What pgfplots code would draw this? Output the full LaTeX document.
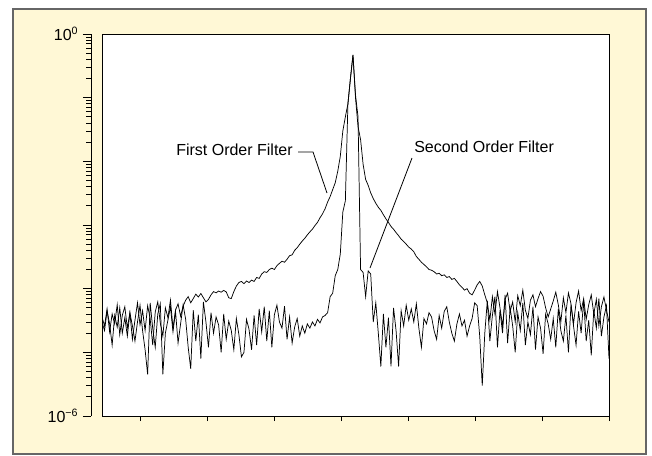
\documentclass[border=0pt]{standalone}
\usepackage{fontspec}
\setmainfont{Liberation Sans}
\usepackage{pgfplots}
\pgfplotsset{compat=1.18}
\usepackage{pgfplotstable}
\definecolor{cream}{RGB}{255,248,214}

% i = sample index, F = first order filter, S = second order filter
\pgfplotstableread{
i F S
0 3.6e-5 3.0e-5
1 2.6e-5 2.2e-5
2 4.8e-5 4.5e-5
3 2.1e-5 2.8e-5
4 4.0e-5 1.3e-5
5 2.8e-5 3.8e-5
6 5.6e-5 2.5e-5
7 1.9e-5 5.0e-5
8 3.8e-5 2.0e-5
9 5.2e-5 3.5e-5
10 2.4e-5 1.8e-5
11 4.2e-5 4.2e-5
12 1.6e-5 2.6e-5
13 3.2e-5 1.5e-5
14 6.0e-5 3.0e-5
15 2.7e-5 5.5e-5
16 4.5e-5 2.2e-5
17 2.2e-5 1.1e-5
18 5.4e-5 4.5e-6
19 3.4e-5 6.0e-5
20 1.3e-5 2.4e-5
21 4.3e-5 1.2e-5
22 6.2e-5 4.0e-5
23 2.9e-5 5.8e-5
24 1.8e-5 4.5e-6
25 5.0e-5 2.0e-5
26 3.5e-5 3.2e-5
27 6.6e-5 5.2e-5
28 2.4e-5 2.1e-5
29 4.6e-5 4.4e-5
30 5.8e-5 1.4e-5
31 3.7e-5 2.8e-5
32 5.3e-5 5.6e-5
33 6.6e-5 3.3e-5
34 7.5e-5 1.2e-5
35 6.0e-5 5.5e-6
36 7.0e-5 4.6e-5
37 8.2e-5 1.5e-5
38 7.4e-5 3.9e-5
39 8.4e-5 8.0e-6
40 7.2e-5 6.2e-5
41 6.2e-5 3.0e-5
42 6.8e-5 1.2e-5
43 8.0e-5 4.2e-5
44 9.0e-5 2.0e-5
45 8.6e-5 3.6e-5
46 9.2e-5 2.7e-5
47 8.8e-5 1.0e-5
48 9.4e-5 4.0e-5
49 8.9e-5 1.6e-5
50 7.2e-5 3.1e-5
51 7.0e-5 2.2e-5
52 9.0e-5 1.1e-5
53 1.1e-4 3.4e-5
54 1.25e-4 1.9e-5
55 1.3e-4 8.5e-6
56 1.2e-4 1.0e-5
57 1.32e-4 3.3e-5
58 1.25e-4 2.3e-5
59 1.36e-4 1.1e-5
60 1.3e-4 3.8e-5
61 1.5e-4 1.3e-5
62 1.45e-4 4.8e-5
63 1.7e-4 2.1e-5
64 1.85e-4 5.2e-5
65 1.8e-4 1.5e-5
66 2.0e-4 4.5e-5
67 2.1e-4 1.2e-5
68 2.0e-4 3.9e-5
69 2.3e-4 5.5e-5
70 2.5e-4 3.0e-5
71 2.7e-4 2.4e-5
72 2.6e-4 5.3e-5
73 2.9e-4 1.6e-5
74 3.3e-4 3.6e-5
75 3.4e-4 1.4e-5
76 4.0e-4 2.5e-5
77 4.4e-4 3.4e-5
78 5.0e-4 1.8e-5
79 5.6e-4 2.6e-5
80 6.2e-4 2.0e-5
81 7.0e-4 2.8e-5
82 7.8e-4 2.4e-5
83 8.6e-4 3.0e-5
84 9.8e-4 2.6e-5
85 1.1e-3 3.3e-5
86 1.3e-3 2.9e-5
87 1.5e-3 3.6e-5
88 1.8e-3 3.8e-5
89 2.3e-3 4.2e-5
90 2.8e-3 7.5e-5
91 3.6e-3 8.5e-5
92 4.6e-3 1.6e-4
93 7.0e-3 2.0e-4
94 1.2e-2 3.5e-4
95 3.0e-2 1.6e-3
96 5.0e-2 2.4e-3
97 8.0e-2 7.9e-2
98 0.2 0.2
99 0.47 0.47
100 0.1 0.11
101 0.035 0.05
102 0.022 2.0e-4
103 9.0e-3 1.8e-4
104 5.2e-3 7.5e-5
105 4.2e-3 1.9e-4
106 3.2e-3 1.7e-4
107 2.6e-3 3.0e-5
108 2.2e-3 6.0e-5
109 1.9e-3 2.0e-5
110 1.7e-3 6.0e-6
111 1.45e-3 4.0e-5
112 1.25e-3 1.2e-5
113 1.1e-3 3.5e-5
114 9.5e-4 6.0e-6
115 8.6e-4 5.0e-5
116 7.6e-4 2.2e-5
117 6.8e-4 6.0e-6
118 6.0e-4 4.5e-5
119 5.5e-4 2.6e-5
120 5.0e-4 5.5e-5
121 4.5e-4 3.2e-5
122 4.2e-4 4.8e-5
123 3.8e-4 3.0e-5
124 3.2e-4 5.8e-5
125 2.9e-4 2.4e-5
126 2.6e-4 1.2e-5
127 2.4e-4 3.4e-5
128 2.2e-4 2.8e-5
129 2.0e-4 4.2e-5
130 1.95e-4 3.6e-5
131 1.85e-4 2.2e-5
132 1.7e-4 1.6e-5
133 1.75e-4 3.8e-5
134 1.6e-4 2.4e-5
135 1.65e-4 4.4e-5
136 1.5e-4 5.2e-5
137 1.55e-4 3.0e-5
138 1.4e-4 2.0e-5
139 1.45e-4 1.5e-5
140 1.3e-4 2.8e-5
141 1.15e-4 4.0e-5
142 1.05e-4 2.6e-5
143 9.5e-5 3.2e-5
144 1.0e-4 1.8e-5
145 8.5e-5 2.6e-5
146 8.0e-5 3.4e-5
147 9.5e-5 6.0e-5
148 1.15e-4 5.4e-5
149 1.3e-4 1.8e-5
150 1.1e-4 3.0e-6
151 8.0e-5 2.0e-5
152 6.0e-5 6.5e-5
153 3.2e-5 1.5e-5
154 7.5e-5 3.8e-5
155 4.0e-5 7.5e-5
156 9.0e-5 1.2e-5
157 5.0e-5 4.6e-5
158 2.6e-5 2.0e-5
159 6.8e-5 8.0e-5
160 8.5e-5 1.4e-5
161 4.4e-5 5.0e-5
162 6.2e-5 2.6e-5
163 3.0e-5 1.0e-5
164 7.8e-5 4.2e-5
165 5.4e-5 2.2e-5
166 9.5e-5 6.0e-5
167 4.6e-5 1.3e-5
168 3.4e-5 3.0e-5
169 6.6e-5 1.9e-5
170 8.0e-5 5.2e-5
171 5.2e-5 1.1e-5
172 7.0e-5 3.6e-5
173 9.0e-5 2.4e-5
174 7.6e-5 9.5e-6
175 5.0e-5 4.0e-5
176 3.6e-5 2.8e-5
177 4.8e-5 1.6e-5
178 6.4e-5 3.4e-5
179 8.8e-5 1.2e-5
180 5.6e-5 4.8e-5
181 3.0e-5 2.2e-5
182 7.2e-5 1.5e-5
183 4.2e-5 3.8e-5
184 8.6e-5 1.0e-5
185 5.8e-5 5.6e-5
186 2.8e-5 2.6e-5
187 6.0e-5 1.3e-5
188 9.2e-5 4.4e-5
189 4.5e-5 2.0e-5
190 7.0e-5 6.5e-5
191 3.3e-5 1.5e-5
192 5.6e-5 3.2e-5
193 8.0e-5 9.0e-6
194 4.0e-5 4.6e-5
195 6.8e-5 2.4e-5
196 2.6e-5 7.0e-5
197 5.2e-5 1.8e-5
198 7.4e-5 3.6e-5
199 4.6e-5 5.4e-5
200 3.0e-5 8.0e-6
}\spectra

\begin{document}
\begin{tikzpicture}
% page and cream panel, in pixel units of the reference
\begin{scope}[x=0.75pt,y=-0.75pt]
\path (0,0) rectangle (652,455);
\filldraw[fill=cream, draw=black!60, line width=0.9pt] (13,9) rectangle (646,454);
\end{scope}

% separate log y axis to the left of the plot box
\begin{axis}[
    at={(68.25pt,-312pt)}, anchor=south west,
    scale only axis, width=5pt, height=286.5pt,
    ymode=log, xmin=0, xmax=1, ymin=1e-6, ymax=1,
    axis x line=none, axis y line=left,
    axis line style={-, line width=0.6pt},
    xtick=\empty,
    ytick={1e-6,1e-5,1e-4,1e-3,1e-2,1e-1,1},
    yticklabels={10\textsuperscript{−6},,,,,,10\textsuperscript{0}},
    tick align=outside,
    major tick length=6pt, minor tick length=3.5pt,
    every tick/.style={black, line width=0.6pt},
    yticklabel style={font=\fontsize{12}{14}\selectfont},
]
\end{axis}

% plot box with the two spectra
\begin{axis}[
    at={(76.5pt,-312pt)}, anchor=south west,
    scale only axis, width=380.25pt, height=286.5pt,
    ymode=log, xmin=0, xmax=200, ymin=1e-6, ymax=1,
    axis background/.style={fill=white},
    axis line style={line width=0.6pt},
    xtick={15,41.43,67.86,94.29,120.71,147.14,173.57,200},
    xticklabels={},
    xtick pos=left,
    ytick=\empty, yminorticks=false,
    tick align=outside,
    major tick length=3.75pt,
    every tick/.style={black, line width=0.6pt},
]
\addplot[black, line width=0.55pt] table[x=i, y=F] {\spectra};
\addplot[black, line width=0.55pt] table[x=i, y=S] {\spectra};
\end{axis}

% annotations
\begin{scope}[x=0.75pt,y=-0.75pt, font=\fontsize{12}{14}\selectfont]
\node[anchor=base west, inner sep=0pt] at (176,155) {First Order Filter};
\draw[line width=0.6pt] (298,152) -- (313,152) -- (327,193);
\node[anchor=base west, inner sep=0pt] at (414,152) {Second Order Filter};
\draw[line width=0.6pt] (412,158) -- (370,268);
\end{scope}
\end{tikzpicture}
\end{document}
